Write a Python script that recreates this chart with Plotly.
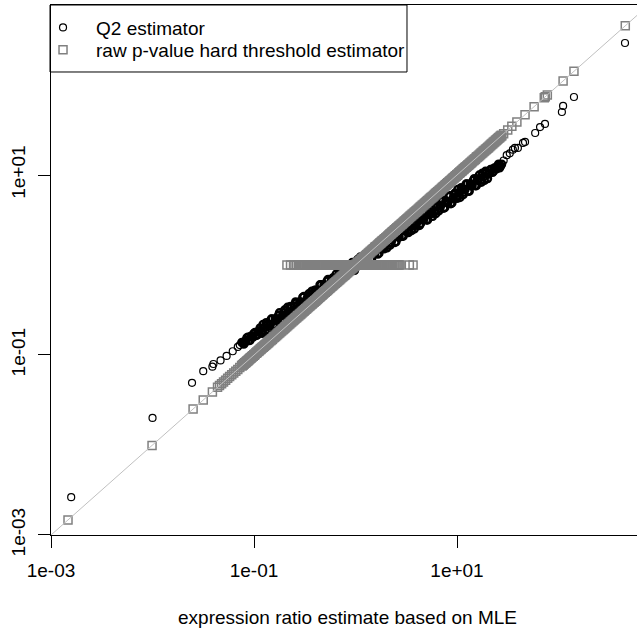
import plotly.graph_objects as go

# ---- data ----
# Q2 estimator: isolated genes with small MLE
q2_mle_low = [0.00158, 0.0100, 0.0245, 0.0316, 0.0389, 0.0398, 0.0468, 0.0537, 0.0617, 0.0692, 0.0724]
q2_est_low = [0.00263, 0.0200, 0.0490, 0.0661, 0.0741, 0.0794, 0.0871, 0.0977, 0.110, 0.123, 0.129]

# MLE values of the dense core of genes (shared by both estimators), first group
mle_core_a = [
    0.0759, 0.0794, 0.0832, 0.0871, 0.0912, 0.0955,
    0.100, 0.105, 0.110, 0.115, 0.120, 0.126, 0.132, 0.138, 0.145, 0.151,
    0.158, 0.166, 0.174, 0.182, 0.191, 0.200, 0.209, 0.219, 0.229, 0.240,
    0.251, 0.263, 0.275, 0.288, 0.302, 0.316, 0.331, 0.347, 0.363, 0.380,
    0.398, 0.417, 0.437, 0.457, 0.479, 0.501, 0.525, 0.550, 0.575, 0.603,
    0.631, 0.661, 0.692, 0.724, 0.759, 0.794, 0.832, 0.871, 0.912, 0.955,
    1.00, 1.05, 1.10, 1.15, 1.20, 1.26, 1.32, 1.38, 1.45, 1.51,
    1.58, 1.66, 1.74, 1.82, 1.91, 2.00, 2.09, 2.19, 2.29, 2.40,
    2.51, 2.63, 2.75, 2.88, 3.02, 3.16, 3.31, 3.47, 3.63, 3.80,
    3.98, 4.17, 4.37, 4.57, 4.79, 5.01, 5.25, 5.50, 5.75, 6.03,
    6.31, 6.61, 6.92, 7.24, 7.59, 7.94, 8.32, 8.71, 9.12, 9.55,
    10.0, 10.5, 11.0, 11.5, 12.0, 12.6, 13.2, 13.8, 14.5, 15.1,
    15.8, 16.6, 17.4, 18.2, 19.1, 20.0, 20.9, 21.9, 22.9, 24.0,
    25.1, 26.3, 27.5,
]
q2_core_a = [
    0.138, 0.132, 0.145, 0.158, 0.145, 0.158,
    0.174, 0.166, 0.182, 0.200, 0.174, 0.200, 0.229, 0.191, 0.219, 0.251,
    0.219, 0.251, 0.275, 0.240, 0.275, 0.316, 0.263, 0.302, 0.347, 0.302,
    0.347, 0.380, 0.331, 0.380, 0.437, 0.363, 0.417, 0.479, 0.417, 0.479,
    0.525, 0.457, 0.525, 0.603, 0.501, 0.575, 0.661, 0.575, 0.661, 0.724,
    0.631, 0.724, 0.832, 0.692, 0.794, 0.912, 0.794, 0.912, 1.00, 0.871,
    1.00, 1.15, 1.00, 1.10, 1.26, 1.10, 1.26, 1.45, 1.20, 1.38,
    1.58, 1.32, 1.51, 1.74, 1.51, 1.74, 2.00, 1.66, 1.91, 2.19,
    1.82, 2.09, 2.40, 2.09, 2.40, 2.75, 2.29, 2.63, 3.02, 2.51,
    2.88, 3.31, 2.88, 3.31, 3.80, 3.16, 3.63, 4.17, 3.47, 3.98,
    4.57, 3.98, 4.57, 5.25, 4.37, 5.01, 5.75, 4.79, 5.50, 6.31,
    5.50, 6.31, 7.24, 6.03, 6.92, 7.94, 6.61, 7.59, 8.71, 7.59,
    8.71, 10.0, 8.32, 9.55, 11.0, 9.12, 10.5, 11.5, 11.0, 12.0,
    12.6, 12.0, 13.2,
]
# second group of dense-core genes
mle_core_b = [
    0.0776, 0.0813, 0.0851, 0.0891, 0.0933, 0.0977,
    0.102, 0.107, 0.112, 0.117, 0.123, 0.129, 0.135, 0.141, 0.148, 0.155,
    0.162, 0.170, 0.178, 0.186, 0.195, 0.204, 0.214, 0.224, 0.234, 0.245,
    0.257, 0.269, 0.282, 0.295, 0.309, 0.324, 0.339, 0.355, 0.372, 0.389,
    0.407, 0.427, 0.447, 0.468, 0.490, 0.513, 0.537, 0.562, 0.589, 0.617,
    0.646, 0.676, 0.708, 0.741, 0.776, 0.813, 0.851, 0.891, 0.933, 0.977,
    1.02, 1.07, 1.12, 1.17, 1.23, 1.29, 1.35, 1.41, 1.48, 1.55,
    1.62, 1.70, 1.78, 1.86, 1.95, 2.04, 2.14, 2.24, 2.34, 2.45,
    2.57, 2.69, 2.82, 2.95, 3.09, 3.24, 3.39, 3.55, 3.72, 3.89,
    4.07, 4.27, 4.47, 4.68, 4.90, 5.13, 5.37, 5.62, 5.89, 6.17,
    6.46, 6.76, 7.08, 7.41, 7.76, 8.13, 8.51, 8.91, 9.33, 9.77,
    10.2, 10.7, 11.2, 11.7, 12.3, 12.9, 13.5, 14.1, 14.8, 15.5,
    16.2, 17.0, 17.8, 18.6, 19.5, 20.4, 21.4, 22.4, 23.4, 24.5,
    25.7, 26.9,
]
q2_core_b = [
    0.138, 0.138, 0.155, 0.145, 0.162, 0.158,
    0.178, 0.166, 0.186, 0.178, 0.219, 0.182, 0.219, 0.209, 0.251, 0.209,
    0.251, 0.240, 0.295, 0.240, 0.295, 0.275, 0.339, 0.275, 0.339, 0.316,
    0.389, 0.324, 0.389, 0.372, 0.447, 0.372, 0.447, 0.427, 0.513, 0.427,
    0.525, 0.490, 0.603, 0.490, 0.603, 0.562, 0.692, 0.575, 0.692, 0.661,
    0.794, 0.661, 0.794, 0.759, 0.912, 0.759, 0.933, 0.871, 1.07, 0.871,
    1.07, 1.00, 1.23, 1.02, 1.23, 1.17, 1.41, 1.17, 1.41, 1.35,
    1.62, 1.35, 1.66, 1.55, 1.91, 1.55, 1.91, 1.78, 2.19, 1.78,
    2.19, 2.04, 2.51, 2.09, 2.51, 2.40, 2.88, 2.40, 2.95, 2.75,
    3.39, 2.75, 3.39, 3.16, 3.89, 3.16, 3.89, 3.72, 4.47, 3.72,
    4.47, 4.27, 5.13, 4.27, 5.13, 4.90, 5.89, 4.90, 6.03, 5.62,
    6.92, 5.62, 6.92, 6.46, 7.94, 6.61, 7.94, 7.59, 9.12, 7.59,
    9.12, 8.71, 10.5, 8.71, 10.7, 10.2, 11.5, 10.7, 12.0, 11.7,
    13.2, 12.6,
]
assert len(mle_core_a) == len(q2_core_a)
assert len(mle_core_b) == len(q2_core_b)

# Q2 estimator: isolated genes with large MLE
q2_mle_high = [28.8, 30.9, 33.1, 35.5, 37.2, 39.8, 44.7, 46.8, 58.9, 65.8, 73.6, 108, 111, 142, 452]
q2_est_high = [14.5, 16.6, 17.4, 19.1, 20.0, 20.0, 22.7, 23.3, 29.3, 34.1, 36.9, 50.1, 58.5, 73.6, 293]

# raw p-value hard threshold estimator: significant genes keep their MLE
raw_sig_low = [0.00147, 0.00989, 0.0251, 0.0316, 0.0389, 0.0437, 0.0457, 0.0479, 0.0501,
               0.0525, 0.0550, 0.0575, 0.0603, 0.0631, 0.0661, 0.0692, 0.0724]
raw_sig_high = [28.8, 31.6, 34.7, 38.9, 46.8, 57.5, 72.4, 74.1, 77.6, 111, 142, 455]
# non-significant genes are set to 1
raw_nonsig_mle = [
    0.211, 0.229, 0.245, 0.263,
    0.275, 0.288, 0.302, 0.316, 0.331, 0.347, 0.363, 0.380, 0.398, 0.417,
    0.437, 0.457, 0.479, 0.501, 0.525, 0.550, 0.575, 0.603, 0.631, 0.661,
    0.692, 0.724, 0.759, 0.794, 0.832, 0.871, 0.912, 0.955, 1.00, 1.05,
    1.10, 1.15, 1.20, 1.26, 1.32, 1.38, 1.45, 1.51, 1.58, 1.66,
    1.74, 1.82, 1.91, 2.00, 2.09, 2.19, 2.29, 2.40, 2.51, 2.63, 2.75,
    3.39, 3.69,
    0.282, 0.295, 0.309, 0.324, 0.339, 0.355, 0.372, 0.389, 0.407, 0.427,
    0.447, 0.468, 0.490, 0.513, 0.537, 0.562, 0.589, 0.617, 0.646, 0.676,
    0.708, 0.741, 0.776, 0.813, 0.851, 0.891, 0.933, 0.977, 1.02, 1.07,
    1.12, 1.17, 1.23, 1.29, 1.35, 1.41, 1.48, 1.55, 1.62, 1.70,
    1.78, 1.86, 1.95, 2.04, 2.14, 2.24, 2.34, 2.45, 2.57, 2.69,
]
raw_nonsig_est = [1.0] * len(raw_nonsig_mle)

identity_line = [1e-4, 1e4]

tick_vals = [0.001, 0.1, 10]
tick_text = ["1e-03", "1e-01", "1e+01"]

FONT = "Liberation Sans, Arial, sans-serif"
FS = 19

fig = go.Figure()
# Q2: sparse tails (legend entry) and over-plotted dense core
fig.add_trace(go.Scatter(
    x=q2_mle_low + q2_mle_high, y=q2_est_low + q2_est_high,
    mode="markers", name="Q2 estimator", legend="legend", legendgroup="q2",
    marker=dict(symbol="circle-open", size=7, color="black", line=dict(width=1.2, color="black")),
))
fig.add_trace(go.Scatter(
    x=mle_core_a + mle_core_b, y=q2_core_a + q2_core_b,
    mode="markers", name="Q2 estimator", legendgroup="q2", showlegend=False,
    marker=dict(symbol="circle-open", size=7, color="black", line=dict(width=2.4, color="black")),
))
# raw: sparse part (legend entry) and dense core
fig.add_trace(go.Scatter(
    x=raw_sig_low + raw_sig_high + raw_nonsig_mle,
    y=raw_sig_low + raw_sig_high + raw_nonsig_est,
    mode="markers", name="raw p-value hard threshold estimator", legend="legend2", legendgroup="raw",
    marker=dict(symbol="square-open", size=8, color="#808080", line=dict(width=1.5, color="#808080")),
))
fig.add_trace(go.Scatter(
    x=mle_core_a + mle_core_b, y=mle_core_a + mle_core_b,
    mode="markers", name="raw p-value hard threshold estimator", legendgroup="raw", showlegend=False,
    marker=dict(symbol="square-open", size=8, color="#808080", line=dict(width=2.0, color="#808080")),
))
fig.add_trace(go.Scatter(
    x=identity_line, y=identity_line, mode="lines", showlegend=False,
    line=dict(color="#c0c0c0", width=1), hoverinfo="skip",
))

axis_common = dict(
    type="log", tickmode="array", tickvals=tick_vals, ticktext=tick_text,
    ticks="outside", ticklen=12, tickwidth=1, tickcolor="black",
    showline=True, linecolor="black", linewidth=1,
    showgrid=False, zeroline=False,
    tickfont=dict(family=FONT, size=FS, color="black"),
)

legend_common = dict(
    xanchor="left", yanchor="middle", x=-0.0358, itemwidth=56,
    font=dict(family=FONT, size=FS, color="black"),
    bgcolor="rgba(0,0,0,0)", borderwidth=0,
)

fig.update_layout(
    width=637, height=632,
    margin=dict(l=51, r=0, t=5, b=97),
    paper_bgcolor="white", plot_bgcolor="white",
    xaxis=dict(axis_common, range=[-3.0003, 2.7734], mirror=True, ticklabelstandoff=6),
    yaxis=dict(axis_common, range=[-3.0003, 2.889], mirror=False, tickangle=-90,
               ticklabelstandoff=5),
    legend=dict(legend_common, y=0.9575),
    legend2=dict(legend_common, y=0.9151),
    shapes=[dict(type="rect", xref="paper", yref="paper",
                 x0=-0.0017, x1=0.6075, y0=0.8736, y1=1.0,
                 line=dict(color="black", width=1))],
    annotations=[dict(text="expression ratio estimate based on MLE",
                      xref="paper", yref="paper", x=0.506, y=-0.1566,
                      xanchor="center", yanchor="middle", showarrow=False,
                      font=dict(family=FONT, size=FS, color="black"))],
)

fig.write_html("out.html")
